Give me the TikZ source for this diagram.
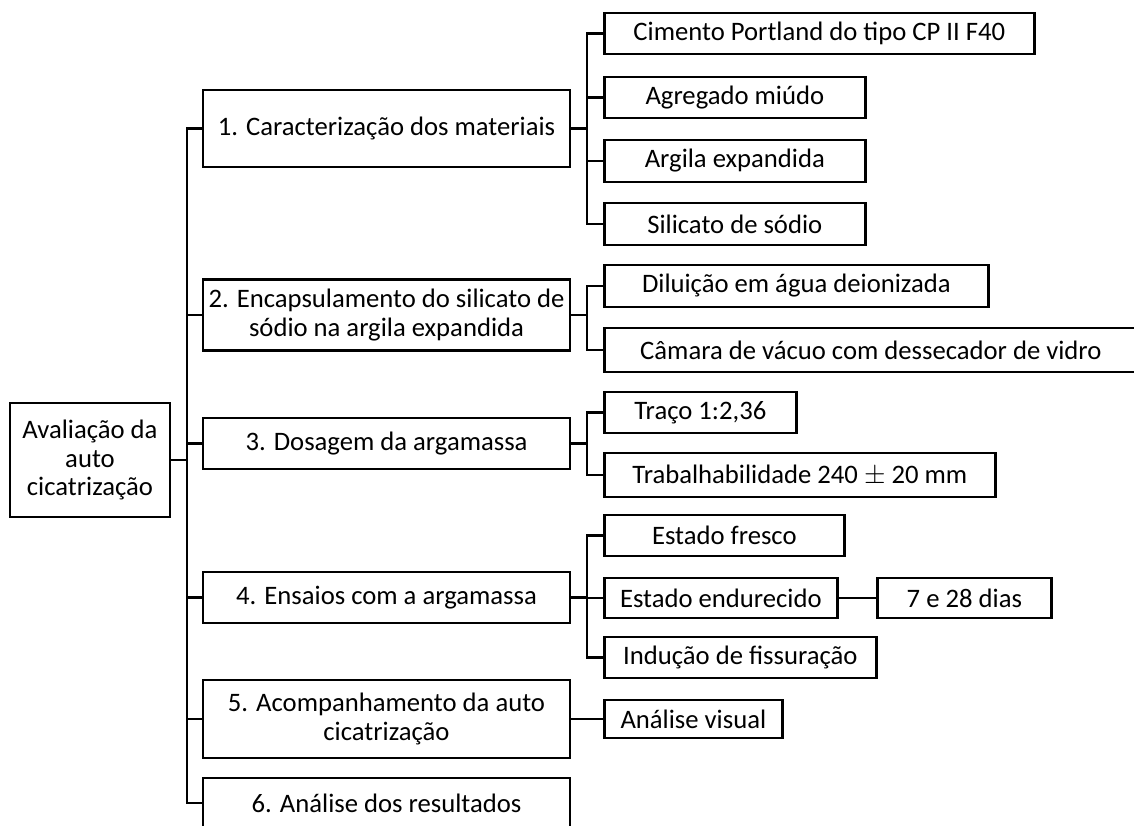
\documentclass[tikz,border=0pt]{standalone}
\usepackage{fontspec}
\setmainfont{Carlito}

\begin{document}
\begin{tikzpicture}[x=0.75pt,y=-0.75pt,
		caixa/.style={draw, line width=2pt, align=center, inner sep=0pt,
			font=\fontsize{20}{21.4}\selectfont},
		tam/.style 2 args={minimum width=#1*0.75pt, minimum height=#2*0.75pt},
		liga/.style={line width=2pt}]
	\clip (0,0) rectangle (1134,825);
	
	% raiz e etapas
	\node[caixa, tam={160}{114}] (aval) at (90,460) {Avalia\c{c}\~ao da\\auto\\cicatriza\c{c}\~ao};
	\node[caixa, tam={367}{77}] (etapa1) at (386.5,128.5) {1. Caracteriza\c{c}\~ao dos materiais};
	\node[caixa, tam={367}{71}] (etapa2) at (386.5,315) {2. Encapsulamento do silicato de\\s\'odio na argila expandida};
	\node[caixa, tam={367}{51}] (etapa3) at (386.5,443.5) {3. Dosagem da argamassa};
	\node[caixa, tam={367}{51}] (etapa4) at (386.5,597.5) {4. Ensaios com a argamassa};
	\node[caixa, tam={367}{78}] (etapa5) at (386.5,719) {5. Acompanhamento da auto\\cicatriza\c{c}\~ao};
	\node[caixa, tam={367}{50}] (etapa6) at (386.5,803) {6. An\'alise dos resultados};
	
	% subitens
	\node[caixa, tam={430}{41}, anchor=west] (cimento) at (603,33.5) {Cimento Portland do tipo CP II F40};
	\node[caixa, tam={261}{41}, anchor=west] (agregado) at (603,97.5) {Agregado mi\'udo};
	\node[caixa, tam={261}{42}, anchor=west] (argila) at (603,161) {Argila expandida};
	\node[caixa, tam={261}{42}, anchor=west] (silicato) at (603,224) {Silicato de s\'odio};
	\node[caixa, tam={384}{42}, anchor=west] (diluicao) at (603,286) {Dilui\c{c}\~ao em \'agua deionizada};
	\node[caixa, tam={533}{44}, anchor=west] (camara) at (603,350) {C\^amara de v\'acuo com dessecador de vidro};
	\node[caixa, tam={192}{41}, anchor=west] (traco) at (603,412.5) {Tra\c{c}o 1:2,36};
	\node[caixa, tam={391}{44}, anchor=west] (trab) at (603,475) {Trabalhabilidade 240 $\pm$ 20 mm};
	\node[caixa, tam={240}{41}, anchor=west] (fresco) at (603,535.5) {Estado fresco};
	\node[caixa, tam={233}{40}, anchor=west] (endurecido) at (603,598) {Estado endurecido};
	\node[caixa, tam={174}{40}, anchor=west] (dias) at (876,598) {7 e 28 dias};
	\node[caixa, tam={272}{41}, anchor=west] (inducao) at (603,657.5) {Indu\c{c}\~ao de fissura\c{c}\~ao};
	\node[caixa, tam={178}{38}, anchor=west] (visual) at (603,719) {An\'alise visual};
	
	% ligacoes
	\coordinate (tronco) at (187,460);
	\draw[liga] (aval.east) -- (tronco);
	\foreach \n in {etapa1,etapa2,etapa3,etapa4,etapa5,etapa6}
		\draw[liga] (tronco) |- (\n.west);
	
	\foreach \e/\y/\lista in {1/128.5/{cimento,agregado,argila,silicato},
		2/315/{diluicao,camara}, 3/443.5/{traco,trab},
		4/597.5/{fresco,endurecido,inducao}}{
		\coordinate (j\e) at (587,\y);
		\draw[liga] (etapa\e.east) -- (j\e);
		\foreach \n in \lista
			\draw[liga] (j\e) |- (\n.west);
	}
	\draw[liga] (etapa5.east) -- (visual.west);
	\draw[liga] (endurecido.east) -- (dias.west);
\end{tikzpicture}
\end{document}
